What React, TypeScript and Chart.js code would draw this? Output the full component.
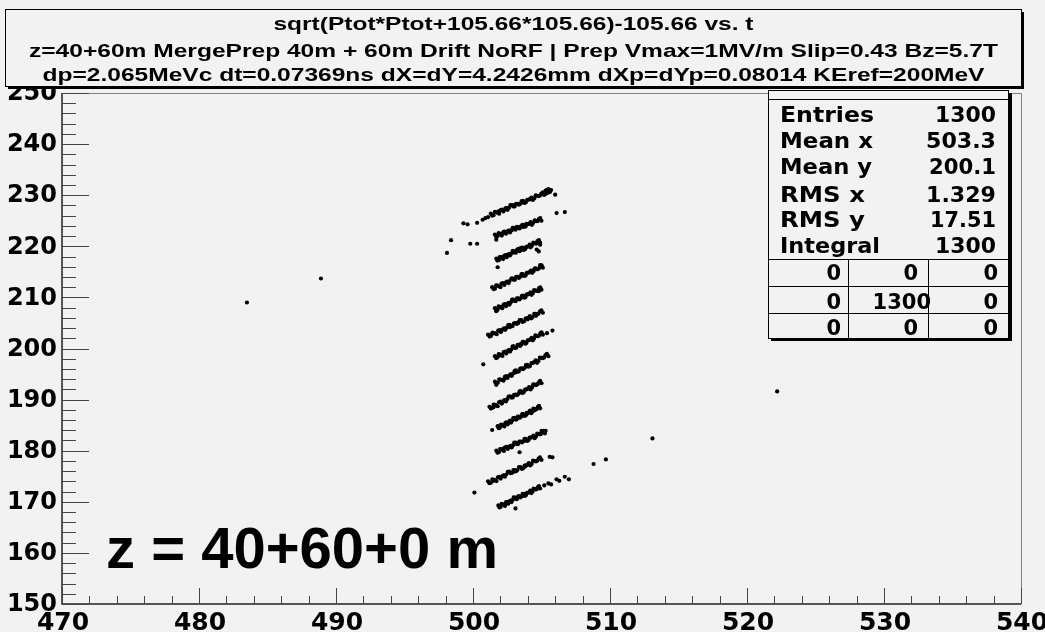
import React, { useEffect, useRef } from "react";
import { Chart, registerables } from "chart.js";

Chart.register(...registerables);

// ---------- text content ----------
const titleLines = [
  "sqrt(Ptot*Ptot+105.66*105.66)-105.66 vs. t",
  "z=40+60m MergePrep 40m + 60m Drift NoRF | Prep Vmax=1MV/m Slip=0.43 Bz=5.7T",
  "dp=2.065MeVc dt=0.07369ns dX=dY=4.2426mm dXp=dYp=0.08014 KEref=200MeV",
];
const statsLabels = ["Entries", "Mean x", "Mean y", "RMS x", "RMS y", "Integral"];
const statsValues = ["1300", "503.3", "200.1", "1.329", "17.51", "1300"];
const statsTable = [
  ["0", "0", "0"],
  ["0", "1300", "0"],
  ["0", "0", "0"],
];
const plotLabel = "z = 40+60+0 m";

// ---------- axes ----------
const xRange = [470, 540];
const yRange = [150, 250];
const tickStep = 2;
const majorStep = 10;

// ---------- data (t, KE) ----------
type P = [number, number];
const bunch01: P[] = [
  [499.3, 224.5], [499.6, 224.3], [500.3, 224.6], [500.7, 225.2], [500.9, 225.5], [501.1, 225.7],
  [501.3, 226.4], [501.5, 226.1], [501.71, 226.65], [501.91, 226.37], [502.12, 227.2], [502.32, 227.22],
  [502.53, 227.14], [502.73, 228.07], [502.94, 227.79], [503.14, 228.31], [503.35, 228.14], [503.55, 228.86],
  [503.76, 228.49], [503.96, 229.11], [504.17, 229.23], [504.37, 229.06], [504.58, 229.98], [504.78, 229.8],
  [504.99, 230.33], [505.19, 230.05], [505.4, 230.98], [505.6, 230.6],
  [501.9, 226.9], [502.4, 227.5], [503.0, 228.0], [503.6, 228.6], [504.3, 229.4], [505.3, 230.9],
  [505.5, 231.2], [505.7, 231.0], [505.4, 230.4], [506.0, 230.1],
  [501.4, 226.01], [501.6, 226.74], [501.81, 226.56], [502.02, 227.09], [502.22, 226.81], [502.43, 227.43],
  [502.63, 227.56], [502.84, 228.08], [503.04, 227.8], [503.25, 228.33], [503.45, 228.35], [503.66, 228.88],
  [503.86, 228.6], [504.07, 229.12], [504.27, 229.55], [504.48, 229.37], [504.68, 229.89], [504.89, 229.92],
  [505.09, 230.54], [505.3, 230.27], [505.5, 230.89],
];
const bunch02: P[] = [
  [501.6, 222.3], [501.8, 222.0], [502.0, 222.45], [502.1, 222.1], [502.3, 222.9], [502.5, 222.9],
  [502.7, 222.7], [502.9, 223.6], [503.0, 223.3], [503.2, 223.8], [503.4, 223.5], [503.6, 224.2],
  [503.7, 223.8], [503.9, 224.4], [504.1, 224.4], [504.3, 224.2], [504.5, 225.1], [504.6, 224.9],
  [504.8, 225.3], [505.0, 225.0],
  [501.7, 221.3], [502.2, 222.6], [502.8, 223.1], [503.5, 223.9], [504.2, 224.6], [504.7, 225.0],
  [501.69, 221.89], [501.87, 222.56], [502.05, 222.34], [502.23, 222.81], [502.41, 222.48], [502.59, 223.06],
  [502.76, 223.13], [502.94, 223.61], [503.12, 223.28], [503.3, 223.75], [503.48, 223.73], [503.66, 224.2],
  [503.84, 223.87], [504.02, 224.35], [504.2, 224.72], [504.37, 224.5], [504.55, 224.97], [504.73, 224.94],
  [504.91, 225.52],
];
const bunch03: P[] = [
  [501.7, 217.6], [501.9, 217.3], [502.0, 217.8], [502.2, 217.5], [502.4, 218.3], [502.5, 218.3],
  [502.7, 218.2], [502.9, 219.1], [503.0, 218.8], [503.2, 219.25], [503.4, 219.05], [503.5, 219.7],
  [503.7, 219.3], [503.9, 219.9], [504.1, 220.0], [504.2, 219.8], [504.4, 220.7], [504.6, 220.5],
  [504.7, 221.0], [504.9, 220.7],
  [502.1, 217.9], [502.8, 218.6], [503.3, 219.5], [504.8, 221.0], [504.9, 220.3], [504.65, 219.35], [504.8, 219.0],
  [501.78, 217.2], [501.95, 217.89], [502.12, 217.69], [502.29, 218.18], [502.46, 217.88], [502.62, 218.47],
  [502.79, 218.57], [502.96, 219.06], [503.13, 218.76], [503.3, 219.25], [503.46, 219.25], [503.63, 219.74],
  [503.8, 219.44], [503.97, 219.93], [504.14, 220.33], [504.3, 220.12], [504.47, 220.62], [504.64, 220.61],
  [504.81, 221.21],
];
const bunch04: P[] = [
  [501.4, 212.0], [501.6, 211.7], [501.8, 212.3], [502.0, 212.0], [502.2, 212.8], [502.4, 212.9],
  [502.6, 212.8], [502.8, 213.7], [502.96, 213.45], [503.15, 214.0], [503.35, 213.8], [503.54, 214.55],
  [503.74, 214.2], [503.93, 214.8], [504.13, 214.9], [504.32, 214.8], [504.52, 215.7], [504.71, 215.5],
  [504.91, 216.1], [505.1, 215.8],
  [501.8, 215.9], [502.3, 212.6], [503.0, 213.6], [503.6, 214.3], [504.4, 215.3], [504.9, 216.3],
  [501.5, 211.62], [501.69, 212.35], [501.89, 212.18], [502.08, 212.71], [502.28, 212.44], [502.47, 213.08],
  [502.67, 213.21], [502.86, 213.74], [503.06, 213.47], [503.25, 214.0], [503.45, 214.04], [503.64, 214.57],
  [503.84, 214.3], [504.03, 214.83], [504.23, 215.26], [504.42, 215.1], [504.62, 215.63], [504.81, 215.66],
  [505.01, 216.29],
];
const bunch05: P[] = [
  [501.6, 207.9], [501.8, 207.6], [501.96, 208.15], [502.14, 207.9], [502.32, 208.7], [502.49, 208.71],
  [502.67, 208.6], [502.85, 209.55], [503.03, 209.3], [503.21, 209.8], [503.39, 209.6], [503.57, 210.3],
  [503.75, 209.95], [503.93, 210.6], [504.1, 210.69], [504.28, 210.5], [504.46, 211.45], [504.64, 211.25],
  [504.82, 211.8], [505.0, 211.5],
  [501.7, 207.3], [502.4, 208.4], [503.1, 209.5], [503.7, 210.2], [504.3, 210.9], [504.8, 211.2],
  [501.69, 207.51], [501.87, 208.23], [502.05, 208.05], [502.23, 208.57], [502.41, 208.29], [502.59, 208.92],
  [502.76, 209.04], [502.94, 209.56], [503.12, 209.28], [503.3, 209.8], [503.48, 209.82], [503.66, 210.34],
  [503.84, 210.06], [504.02, 210.58], [504.2, 211.0], [504.37, 210.83], [504.55, 211.35], [504.73, 211.37],
  [504.91, 211.99],
];
const bunch06: P[] = [
  [501.1, 202.7], [501.31, 202.45], [501.52, 203.0], [501.73, 202.8], [501.94, 203.6], [502.15, 203.69],
  [502.36, 203.65], [502.57, 204.6], [502.78, 204.35], [502.99, 204.9], [503.2, 204.8], [503.41, 205.55],
  [503.62, 205.2], [503.84, 205.85], [504.05, 206.01], [504.26, 205.9], [504.47, 206.8], [504.68, 206.7],
  [504.89, 207.25], [505.1, 207.0],
  [501.4, 202.9], [502.0, 203.3], [502.7, 204.2], [503.3, 205.1], [504.0, 205.7], [504.6, 206.4],
  [501.21, 202.33], [501.42, 203.09], [501.63, 202.95], [501.84, 203.5], [502.05, 203.26], [502.26, 203.92],
  [502.47, 204.08], [502.68, 204.64], [502.89, 204.39], [503.1, 204.95], [503.31, 205.01], [503.52, 205.57],
  [503.73, 205.33], [503.94, 205.88], [504.15, 206.34], [504.36, 206.2], [504.57, 206.76], [504.78, 206.81],
  [504.99, 207.47],
];
const bunch07: P[] = [
  [501.6, 198.5], [501.78, 198.25], [501.97, 198.8], [502.15, 198.55], [502.34, 199.4], [502.52, 199.46],
  [502.71, 199.4], [502.89, 200.4], [503.07, 200.1], [503.26, 200.7], [503.44, 200.5], [503.63, 201.3],
  [503.81, 200.95], [504.0, 201.6], [504.18, 201.74], [504.36, 201.6], [504.55, 202.55], [504.73, 202.4],
  [504.92, 202.95], [505.1, 202.7],
  [505.4, 203.0], [505.8, 203.5], [501.9, 198.6], [502.6, 199.6], [503.5, 200.9], [504.4, 202.0],
  [501.69, 198.13], [501.88, 198.88], [502.06, 198.73], [502.24, 199.28], [502.43, 199.04], [502.61, 199.69],
  [502.8, 199.84], [502.98, 200.4], [503.16, 200.15], [503.35, 200.7], [503.53, 200.76], [503.72, 201.31],
  [503.9, 201.06], [504.08, 201.62], [504.27, 202.07], [504.45, 201.92], [504.64, 202.47], [504.82, 202.53],
  [505.0, 203.18],
];
const bunch08: P[] = [
  [501.6, 193.5], [501.81, 193.3], [502.01, 193.9], [502.22, 193.7], [502.42, 194.6], [502.63, 194.67],
  [502.83, 194.65], [503.04, 195.65], [503.24, 195.45], [503.45, 196.05], [503.65, 195.95], [503.86, 196.75],
  [504.06, 196.45], [504.27, 197.15], [504.47, 197.33], [504.68, 197.2], [504.88, 198.2], [505.09, 198.1],
  [505.29, 198.7], [505.5, 198.5],
  [500.75, 196.9], [501.7, 192.9], [502.3, 194.1], [503.1, 195.3], [503.9, 196.5], [504.6, 197.5],
  [501.7, 193.15], [501.91, 193.94], [502.11, 193.84], [502.32, 194.43], [502.52, 194.23], [502.73, 194.92],
  [502.93, 195.12], [503.14, 195.71], [503.34, 195.51], [503.55, 196.1], [503.75, 196.2], [503.96, 196.79],
  [504.16, 196.59], [504.37, 197.18], [504.57, 197.68], [504.78, 197.57], [504.98, 198.17], [505.19, 198.26],
  [505.39, 198.96],
];
const bunch09: P[] = [
  [501.2, 188.6], [501.4, 188.4], [501.6, 188.95], [501.8, 188.7], [502.0, 189.6], [502.2, 189.67],
  [502.4, 189.65], [502.6, 190.6], [502.8, 190.4], [503.0, 190.95], [503.2, 190.85], [503.4, 191.6],
  [503.6, 191.3], [503.8, 191.95], [504.0, 192.13], [504.2, 192.0], [504.4, 193.0], [504.6, 192.85],
  [504.8, 193.4], [505.0, 193.2],
  [501.5, 188.5], [502.1, 189.3], [502.9, 190.6], [503.5, 191.4], [504.3, 192.4], [504.7, 193.0],
  [501.3, 188.24], [501.5, 189.01], [501.7, 188.89], [501.9, 189.46], [502.1, 189.23], [502.3, 189.91],
  [502.5, 190.08], [502.7, 190.66], [502.9, 190.43], [503.1, 191.0], [503.3, 191.08], [503.5, 191.65],
  [503.7, 191.42], [503.9, 192.0], [504.1, 192.47], [504.3, 192.35], [504.5, 192.92], [504.7, 192.99],
  [504.9, 193.67],
];
const bunch10: P[] = [
  [501.8, 184.8], [501.96, 184.5], [502.13, 185.05], [502.29, 184.75], [502.45, 185.55], [502.62, 185.58],
  [502.78, 185.5], [502.94, 186.4], [503.11, 186.1], [503.27, 186.65], [503.43, 186.45], [503.59, 187.15],
  [503.76, 186.8], [503.92, 187.4], [504.08, 187.52], [504.25, 187.35], [504.41, 188.25], [504.57, 188.05],
  [504.74, 188.6], [504.9, 188.3],
  [501.4, 184.05], [502.0, 184.9], [502.7, 185.9], [503.3, 186.5], [503.9, 187.1], [504.5, 187.9],
  [501.88, 184.41], [502.05, 185.12], [502.21, 184.94], [502.37, 185.46], [502.53, 185.17], [502.7, 185.79],
  [502.86, 185.9], [503.02, 186.42], [503.19, 186.14], [503.35, 186.65], [503.51, 186.67], [503.67, 187.18],
  [503.84, 186.9], [504.0, 187.42], [504.16, 187.83], [504.33, 187.65], [504.49, 188.16], [504.65, 188.18],
  [504.82, 188.8],
];
const bunch11: P[] = [
  [501.7, 180.0], [501.89, 179.7], [502.07, 180.2], [502.26, 179.95], [502.45, 180.75], [502.63, 180.75],
  [502.82, 180.65], [503.01, 181.6], [503.19, 181.3], [503.38, 181.8], [503.57, 181.6], [503.76, 182.3],
  [503.94, 181.9], [504.13, 182.55], [504.32, 182.65], [504.5, 182.45], [504.69, 183.35], [504.88, 183.2],
  [505.06, 183.7], [505.25, 183.4],
  [503.4, 179.7], [505.0, 183.9], [505.3, 183.9], [502.2, 180.4], [502.9, 181.0], [503.8, 182.0],
  [501.79, 179.61], [501.98, 180.32], [502.17, 180.13], [502.35, 180.64], [502.54, 180.35], [502.73, 180.96],
  [502.91, 181.07], [503.1, 181.58], [503.29, 181.29], [503.48, 181.8], [503.66, 181.81], [503.85, 182.32],
  [504.04, 182.03], [504.22, 182.54], [504.41, 182.95], [504.6, 182.76], [504.78, 183.27], [504.97, 183.28],
  [505.16, 183.89],
];
const bunch12: P[] = [
  [501.1, 174.0], [501.31, 173.75], [501.51, 174.3], [501.72, 174.05], [501.92, 174.9], [502.13, 174.96],
  [502.33, 174.9], [502.54, 175.85], [502.74, 175.6], [502.95, 176.2], [503.15, 176.0], [503.36, 176.8],
  [503.56, 176.45], [503.77, 177.1], [503.97, 177.24], [504.18, 177.1], [504.38, 178.05], [504.59, 177.9],
  [504.79, 178.45], [505.0, 178.2],
  [505.6, 178.8], [505.8, 178.7], [501.5, 174.1], [502.2, 175.1], [503.0, 175.9], [503.8, 176.9],
  [501.2, 173.63], [501.41, 174.38], [501.61, 174.23], [501.82, 174.79], [502.02, 174.54], [502.23, 175.19],
  [502.43, 175.34], [502.64, 175.9], [502.84, 175.65], [503.05, 176.2], [503.25, 176.26], [503.46, 176.81],
  [503.66, 176.56], [503.87, 177.12], [504.07, 177.57], [504.28, 177.42], [504.48, 177.97], [504.69, 178.03],
  [504.89, 178.68],
];
const bunch13: P[] = [
  [501.85, 169.3], [502.01, 169.0], [502.17, 169.5], [502.33, 169.2], [502.49, 170.0], [502.65, 170.03],
  [502.81, 169.95], [502.97, 170.85], [503.13, 170.55], [503.29, 171.05], [503.46, 170.85], [503.62, 171.55],
  [503.78, 171.15], [503.94, 171.75], [504.1, 171.87], [504.26, 171.7], [504.42, 172.6], [504.58, 172.4],
  [504.74, 172.9], [504.9, 172.6],
  [505.2, 173.2], [505.5, 173.6], [505.7, 173.4], [506.1, 174.4], [506.3, 174.1], [506.7, 174.9],
  [507.0, 174.4], [503.1, 168.7], [502.4, 169.6], [503.4, 171.0],
  [501.93, 168.9], [502.09, 169.61], [502.25, 169.41], [502.41, 169.92], [502.57, 169.62], [502.73, 170.23],
  [502.89, 170.33], [503.05, 170.84], [503.21, 170.54], [503.37, 171.05], [503.54, 171.05], [503.7, 171.56],
  [503.86, 171.26], [504.02, 171.77], [504.18, 172.17], [504.34, 171.98], [504.5, 172.48], [504.66, 172.49],
  [504.82, 173.09],
];
const strayPoints: P[] = [
  [483.5, 209.0], [488.9, 213.7], [500.1, 171.8], [508.8, 177.4], [509.7, 178.3], [513.1, 182.4],
  [522.2, 191.6], [498.4, 221.2], [498.1, 218.7], [499.8, 220.5], [500.3, 220.5], [506.1, 226.5],
  [506.7, 226.7],
];
const allBunches = [
  bunch01, bunch02, bunch03, bunch04, bunch05, bunch06, bunch07,
  bunch08, bunch09, bunch10, bunch11, bunch12, bunch13, strayPoints,
];

const BG = "#f2f2f2";

const rootAxesPlugin = {
  id: "rootAxes",
  afterDatasetsDraw(chart: any) {
    const { ctx, chartArea: a, scales } = chart;
    const xs = scales.x;
    const ys = scales.y;
    ctx.save();
    // frame
    ctx.strokeStyle = "#808080";
    ctx.lineWidth = 1;
    ctx.beginPath();
    ctx.moveTo(a.left, a.top + 0.5);
    ctx.lineTo(a.right + 0.5, a.top + 0.5);
    ctx.lineTo(a.right + 0.5, a.bottom);
    ctx.stroke();
    // axes
    ctx.strokeStyle = "#222";
    ctx.lineWidth = 1.5;
    ctx.beginPath();
    ctx.moveTo(a.left, a.top);
    ctx.lineTo(a.left, a.bottom);
    ctx.lineTo(a.right, a.bottom);
    ctx.stroke();
    // ticks
    ctx.strokeStyle = "#444";
    ctx.lineWidth = 1;
    ctx.beginPath();
    xs.ticks.forEach((t: any) => {
      const px = Math.round(xs.getPixelForValue(t.value)) + 0.5;
      const major = Math.abs(t.value % majorStep) < 1e-6;
      ctx.moveTo(px, a.bottom);
      ctx.lineTo(px, a.bottom - (major ? 16 : 8));
    });
    ys.ticks.forEach((t: any) => {
      const py = Math.round(ys.getPixelForValue(t.value)) + 0.5;
      const major = Math.abs(t.value % majorStep) < 1e-6;
      ctx.moveTo(a.left, py);
      ctx.lineTo(a.left + (major ? 27 : 14), py);
    });
    ctx.stroke();
    // labels
    ctx.fillStyle = "#000";
    ctx.font = 'bold 24px "DejaVu Sans"';
    ctx.textAlign = "right";
    ctx.textBaseline = "middle";
    ys.ticks.forEach((t: any) => {
      if (Math.abs(t.value % majorStep) > 1e-6) return;
      ctx.fillText(String(t.value), a.left - 5, ys.getPixelForValue(t.value) + 1);
    });
    ctx.font = 'bold 25px "DejaVu Sans"';
    ctx.textAlign = "center";
    ctx.textBaseline = "alphabetic";
    xs.ticks.forEach((t: any) => {
      if (Math.abs(t.value % majorStep) > 1e-6) return;
      ctx.fillText(String(t.value), xs.getPixelForValue(t.value) + 1, 630);
    });
    ctx.restore();
  },
};

export default function App() {
  const canvasRef = useRef<HTMLCanvasElement | null>(null);

  useEffect(() => {
    document.body.style.margin = "0";
    document.body.style.background = BG;
    const canvas = canvasRef.current;
    if (!canvas) return;
    const data = allBunches.flat().map(([x, y]) => ({ x, y }));
    const chart = new Chart(canvas, {
      type: "scatter",
      data: {
        datasets: [
          {
            data,
            pointRadius: 2.1,
            pointHoverRadius: 2.1,
            pointBackgroundColor: "#000",
            pointBorderWidth: 0,
            showLine: false,
          },
        ],
      },
      options: {
        animation: false,
        responsive: false,
        devicePixelRatio: 1,
        events: [],
        layout: { padding: { left: 62, right: 24, top: 93, bottom: 28 } },
        plugins: { legend: { display: false }, tooltip: { enabled: false }, title: { display: false } },
        scales: {
          x: {
            type: "linear",
            min: xRange[0],
            max: xRange[1],
            ticks: { stepSize: tickStep, display: false, autoSkip: false },
            grid: { display: false, drawTicks: false },
            border: { display: false },
            afterFit: (s: any) => {
              s.height = 0;
            },
          },
          y: {
            type: "linear",
            min: yRange[0],
            max: yRange[1],
            ticks: { stepSize: tickStep, display: false, autoSkip: false },
            grid: { display: false, drawTicks: false },
            border: { display: false },
            afterFit: (s: any) => {
              s.width = 0;
            },
          },
        },
      },
      plugins: [rootAxesPlugin],
    });
    return () => chart.destroy();
  }, []);

  const titleY = [30, 57, 81];
  const titleLen = [480, 969, 942];
  const rowBase = [121.5, 148, 174, 201.5, 226.5, 253];
  const labelLen = [94, 93, 92, 85, 85, 100];
  const valueLen = [61, 70, 67, 70, 66, 61];
  const cellBase = [280, 309, 335];
  const cellRight = [841, 918, 998];

  return (
    <div style={{ position: "absolute", left: 0, top: 0, width: 1045, height: 632, background: BG }}>
      <canvas ref={canvasRef} width={1045} height={632} style={{ position: "absolute", left: 0, top: 0 }} />
      <svg width={1045} height={632} style={{ position: "absolute", left: 0, top: 0 }}>
        {/* title box */}
        <rect x={8} y={12} width={1016} height={77} fill="#000" />
        <rect x={5.5} y={9.5} width={1016} height={77} fill={BG} stroke="#000" strokeWidth={1} />
        {titleLines.map((t, i) => (
          <text
            key={i}
            x={513.5}
            y={titleY[i]}
            textAnchor="middle"
            textLength={titleLen[i]}
            lengthAdjust="spacingAndGlyphs"
            fontFamily="'Liberation Sans', Arial, sans-serif"
            fontWeight="bold"
            fontSize={19}
            fill="#000"
          >
            {t}
          </text>
        ))}
        {/* stats box */}
        <rect x={771} y={93} width={241} height={248} fill="#000" />
        <rect x={768.5} y={90.5} width={240} height={248} fill={BG} stroke="#000" strokeWidth={1} />
        <line x1={768} x2={1009} y1={99.5} y2={99.5} stroke="#000" />
        <line x1={768} x2={1009} y1={259.5} y2={259.5} stroke="#000" />
        <line x1={768} x2={1009} y1={286.5} y2={286.5} stroke="#000" />
        <line x1={768} x2={1009} y1={313.5} y2={313.5} stroke="#000" />
        <line x1={848.5} x2={848.5} y1={259} y2={338} stroke="#000" />
        <line x1={928.5} x2={928.5} y1={259} y2={338} stroke="#000" />
        {statsLabels.map((t, i) => (
          <text
            key={"l" + i}
            x={780}
            y={rowBase[i]}
            textLength={labelLen[i]}
            lengthAdjust="spacingAndGlyphs"
            fontFamily="'DejaVu Sans', sans-serif"
            fontWeight="bold"
            fontSize={21}
          >
            {t}
          </text>
        ))}
        {statsValues.map((t, i) => (
          <text
            key={"v" + i}
            x={996}
            y={rowBase[i]}
            textAnchor="end"
            textLength={valueLen[i]}
            lengthAdjust="spacingAndGlyphs"
            fontFamily="'DejaVu Sans', sans-serif"
            fontWeight="bold"
            fontSize={21}
          >
            {t}
          </text>
        ))}
        {statsTable.map((row, r) =>
          row.map((t, c) => (
            <text
              key={"c" + r + c}
              x={t.length > 1 ? 931 : cellRight[c]}
              y={cellBase[r]}
              textAnchor="end"
              fontFamily="'DejaVu Sans', sans-serif"
              fontWeight="bold"
              fontSize={21}
            >
              {t}
            </text>
          ))
        )}
        {/* big label */}
        <text
          x={106}
          y={568}
          textLength={392}
          lengthAdjust="spacingAndGlyphs"
          fontFamily="'Liberation Sans', Arial, sans-serif"
          fontWeight="bold"
          fontSize={58}
        >
          {plotLabel}
        </text>
      </svg>
    </div>
  );
}
